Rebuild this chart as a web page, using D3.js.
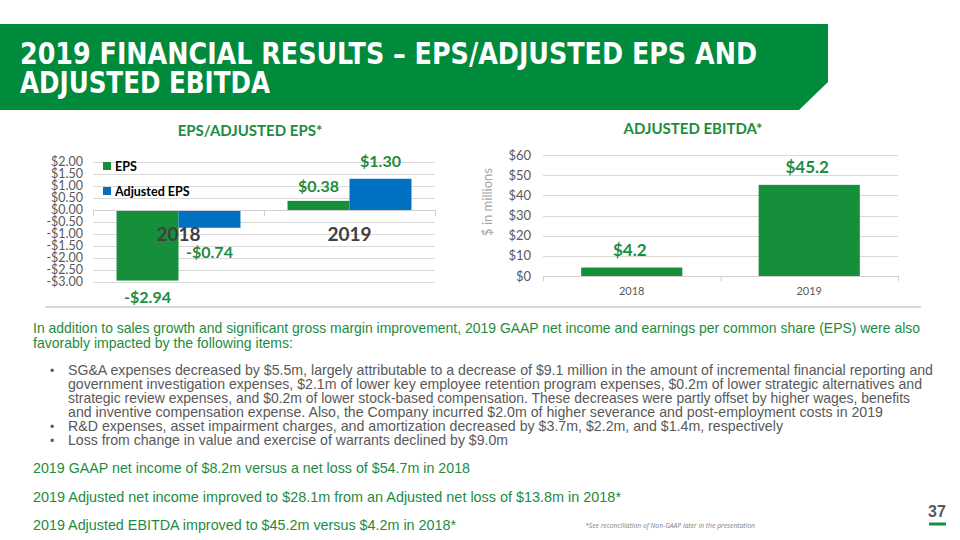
<!DOCTYPE html>
<html>
<head>
<meta charset="utf-8">
<script src="https://cdn.jsdelivr.net/npm/d3@7"></script>
<style>
  html, body { margin: 0; padding: 0; background: #fff; }
  svg { display: block; }
</style>
</head>
<body>
<svg id="chart" width="960" height="540"></svg>
<script>
// ---------- DATA ----------
const epsCategories = ["2018", "2019"];
const epsSeries = ["EPS", "Adjusted EPS"];
const epsValues = [-2.94, 0.38];          // EPS
const adjEpsValues = [-0.74, 1.30];       // Adjusted EPS
const epsLabels = ["-$2.94", "$0.38"];
const adjEpsLabels = ["-$0.74", "$1.30"];
const epsTicks = [2, 1.5, 1, 0.5, 0, -0.5, -1, -1.5, -2, -2.5, -3];
const epsTickLabels = ["$2.00","$1.50","$1.00","$0.50","$0.00","-$0.50","-$1.00","-$1.50","-$2.00","-$2.50","-$3.00"];

const ebitdaCategories = ["2018", "2019"];
const ebitdaValues = [4.2, 45.2];
const ebitdaLabels = ["$4.2", "$45.2"];
const ebitdaTicks = [0, 10, 20, 30, 40, 50, 60];
const ebitdaTickLabels = ["$0","$10","$20","$30","$40","$50","$60"];

const titleLines = ["2019 FINANCIAL RESULTS \u2013 EPS/ADJUSTED EPS AND", "ADJUSTED EBITDA"];
const introLines = [
  "In addition to sales growth and significant gross margin improvement, 2019 GAAP net income and earnings per common share (EPS) were also",
  "favorably impacted by the following items:"
];
const bulletLines = [
  ["SG&A expenses decreased by $5.5m, largely attributable to a decrease of $9.1 million in the amount of incremental financial reporting and",
   "government investigation expenses, $2.1m of lower key employee retention program expenses, $0.2m of lower strategic alternatives and",
   "strategic review expenses, and $0.2m of lower stock-based compensation.  These decreases were partly offset by higher wages, benefits",
   "and inventive compensation expense.  Also, the Company incurred $2.0m of higher severance and post-employment costs in 2019"],
  ["R&D expenses, asset impairment charges, and amortization decreased by $3.7m, $2.2m, and $1.4m, respectively"],
  ["Loss from change in value and exercise of warrants declined by $9.0m"]
];
const summaryLines = [
  "2019 GAAP net income of $8.2m versus a net loss of $54.7m in 2018",
  "2019 Adjusted net income improved to $28.1m from an Adjusted net loss of $13.8m in 2018*",
  "2019 Adjusted EBITDA improved to $45.2m versus $4.2m in 2018*"
];

// ---------- STYLE ----------
const GREEN = "#168f3a";
const BANNER = "#008a3b";
const BLUE = "#0070c0";
const TEXTGREEN = "#1d8c3f";
const GRID = "#d9d9d9";
const chartFont = "Lato, 'Open Sans', sans-serif";
const bodyFont = "'Liberation Sans', Arial, sans-serif";

const svg = d3.select("#chart");

// ---------- BANNER ----------
svg.append("path")
  .attr("d", "M0,24 L828,24 L828,82 L799,110 L0,110 Z")
  .attr("fill", BANNER);
svg.selectAll("text.title").data(titleLines).enter().append("text")
  .attr("class", "title")
  .attr("x", 20)
  .attr("y", (d, i) => 64 + i * 29)
  .attr("fill", "#fff")
  .attr("font-family", "'Liberation Sans Narrow', 'DejaVu Sans Condensed', 'Liberation Sans', sans-serif")
  .attr("font-weight", "bold")
  .attr("font-size", 31)
  .attr("textLength", (d, i) => i === 0 ? 737 : 250)
  .attr("lengthAdjust", "spacingAndGlyphs")
  .text(d => d);

// ---------- EPS CHART ----------
const eps = svg.append("g");
const yEps = d3.scaleLinear().domain([-3, 2]).range([282, 162]);
const x0 = d3.scaleBand().domain(epsCategories).range([93, 435]);
const x1 = d3.scaleBand().domain(epsSeries).range([0, x0.bandwidth()]).paddingInner(0).paddingOuter(0.38);

eps.append("text").attr("x", 250).attr("y", 136).attr("text-anchor", "middle")
  .attr("fill", TEXTGREEN).attr("font-family", chartFont).attr("font-weight", "bold")
  .attr("font-size", 15).text("EPS/ADJUSTED EPS*");

eps.selectAll("line.grid").data(epsTicks).enter().append("line")
  .attr("x1", 93).attr("x2", 435)
  .attr("y1", d => Math.round(yEps(d)) + 0.5).attr("y2", d => Math.round(yEps(d)) + 0.5)
  .attr("stroke", GRID).attr("stroke-width", 1);

eps.selectAll("text.ytick").data(epsTicks).enter().append("text")
  .attr("x", 83).attr("y", d => yEps(d) + 4.3).attr("text-anchor", "end")
  .attr("fill", "#595959").attr("font-family", chartFont).attr("font-size", 12.5)
  .text((d, i) => epsTickLabels[i]);

const epsRows = epsCategories.map((c, i) => ({ cat: c, vals: [
  { s: "EPS", v: epsValues[i], label: epsLabels[i], color: GREEN },
  { s: "Adjusted EPS", v: adjEpsValues[i], label: adjEpsLabels[i], color: BLUE }
]}));

const groups = eps.selectAll("g.cat").data(epsRows).enter().append("g")
  .attr("transform", d => `translate(${x0(d.cat)},0)`);
groups.selectAll("rect").data(d => d.vals).enter().append("rect")
  .attr("x", d => x1(d.s)).attr("width", x1.bandwidth())
  .attr("y", d => yEps(Math.max(0, d.v)))
  .attr("height", d => Math.abs(yEps(d.v) - yEps(0)))
  .attr("fill", d => d.color);

// zero axis with ticks
eps.append("line").attr("x1", 93).attr("x2", 435).attr("y1", yEps(0) + 0.5).attr("y2", yEps(0) + 0.5)
  .attr("stroke", "#d0d0d0");
eps.selectAll("line.ctick").data([93, x0("2019"), 435]).enter().append("line")
  .attr("x1", d => d + 0.5).attr("x2", d => d + 0.5)
  .attr("y1", yEps(0)).attr("y2", yEps(0) + 6).attr("stroke", "#d0d0d0");

// category labels
groups.append("text")
  .attr("x", x0.bandwidth() / 2).attr("y", 241).attr("text-anchor", "middle")
  .attr("fill", "#404040").attr("font-family", chartFont).attr("font-weight", "bold")
  .attr("font-size", 19).text(d => d.cat);

// data labels
const labelDy = { "EPS": { neg: 22, pos: -9 }, "Adjusted EPS": { neg: 30, pos: -12 } };
groups.selectAll("text.val").data(d => d.vals).enter().append("text")
  .attr("x", d => x1(d.s) + x1.bandwidth() / 2)
  .attr("y", d => yEps(d.v) + (d.v < 0 ? labelDy[d.s].neg : labelDy[d.s].pos))
  .attr("text-anchor", "middle")
  .attr("fill", TEXTGREEN).attr("font-family", chartFont).attr("font-weight", "bold")
  .attr("font-size", 16).text(d => d.label);

// legend
const legend = eps.selectAll("g.leg").data(epsSeries).enter().append("g")
  .attr("transform", (d, i) => `translate(103,${166 + i * 25})`);
legend.append("rect").attr("x", 0).attr("y", -4).attr("width", 8).attr("height", 8)
  .attr("fill", (d, i) => i === 0 ? GREEN : BLUE);
legend.append("text").attr("x", 12).attr("y", 4.5)
  .attr("fill", "#000").attr("font-family", chartFont).attr("font-weight", "bold")
  .attr("font-size", 12.5).text(d => d);

// ---------- EBITDA CHART ----------
const eb = svg.append("g");
const yEb = d3.scaleLinear().domain([0, 60]).range([276, 155]);
const xEb = d3.scaleBand().domain(ebitdaCategories).range([543, 898]).paddingInner(0.43).paddingOuter(0.215);

eb.append("text").attr("x", 693).attr("y", 134).attr("text-anchor", "middle")
  .attr("fill", TEXTGREEN).attr("font-family", chartFont).attr("font-weight", "bold")
  .attr("font-size", 15).text("ADJUSTED EBITDA*");

eb.selectAll("line.grid").data(ebitdaTicks).enter().append("line")
  .attr("x1", 543).attr("x2", 898)
  .attr("y1", d => Math.round(yEb(d)) + 0.5).attr("y2", d => Math.round(yEb(d)) + 0.5)
  .attr("stroke", d => d === 0 ? "#d0d0d0" : GRID).attr("stroke-width", 1);

eb.selectAll("text.ytick").data(ebitdaTicks).enter().append("text")
  .attr("x", 531).attr("y", d => yEb(d) + 4.5).attr("text-anchor", "end")
  .attr("fill", "#595959").attr("font-family", chartFont).attr("font-size", 13)
  .text((d, i) => ebitdaTickLabels[i]);

eb.selectAll("line.ctick").data([543, 720.5, 898]).enter().append("line")
  .attr("x1", d => d + 0.5).attr("x2", d => d + 0.5)
  .attr("y1", yEb(0)).attr("y2", yEb(0) + 5).attr("stroke", "#d0d0d0");

eb.selectAll("rect").data(ebitdaValues).enter().append("rect")
  .attr("x", (d, i) => xEb(ebitdaCategories[i])).attr("width", xEb.bandwidth())
  .attr("y", d => yEb(d)).attr("height", d => yEb(0) - yEb(d))
  .attr("fill", GREEN);

eb.selectAll("text.val").data(ebitdaValues).enter().append("text")
  .attr("x", (d, i) => xEb(ebitdaCategories[i]) + xEb.bandwidth() / 2 - 2)
  .attr("y", d => yEb(d) - 12)
  .attr("text-anchor", "middle")
  .attr("fill", TEXTGREEN).attr("font-family", chartFont).attr("font-weight", "bold")
  .attr("font-size", 17).text((d, i) => ebitdaLabels[i]);

eb.selectAll("text.cat").data(ebitdaCategories).enter().append("text")
  .attr("x", d => xEb(d) + xEb.bandwidth() / 2).attr("y", 295).attr("text-anchor", "middle")
  .attr("fill", "#595959").attr("font-family", chartFont).attr("font-size", 11).text(d => d);

eb.append("text").attr("transform", "translate(492,202) rotate(-90)")
  .attr("text-anchor", "middle").attr("fill", "#a6a6a6")
  .attr("font-family", chartFont).attr("font-size", 13).text("$ in millions");

// separator
svg.append("line").attr("x1", 45).attr("x2", 921).attr("y1", 307).attr("y2", 307)
  .attr("stroke", "#c8c8c8").attr("stroke-width", 1.5);

// ---------- BODY TEXT ----------
const body = svg.append("g").attr("font-family", bodyFont).attr("font-size", 14.5);
const introWidths = [887, 260];
body.selectAll("text.intro").data(introLines).enter().append("text")
  .attr("x", 33).attr("y", (d, i) => 333 + i * 14.5)
  .attr("fill", TEXTGREEN)
  .attr("textLength", (d, i) => introWidths[i]).attr("lengthAdjust", "spacingAndGlyphs")
  .text(d => d);

const bulletWidths = [[865, 854, 842, 815], [715], [440]];
let lineIdx = 0;
bulletLines.forEach((lines, bi) => {
  body.append("text").attr("x", 50).attr("y", 375 + lineIdx * 14)
    .attr("fill", "#595959").attr("font-size", 12).text("\u2022");
  lines.forEach((ln, li) => {
    body.append("text").attr("x", 68).attr("y", 375 + lineIdx * 14)
      .attr("fill", "#595959")
      .attr("textLength", bulletWidths[bi][li]).attr("lengthAdjust", "spacingAndGlyphs")
      .text(ln);
    lineIdx++;
  });
});

const summaryWidths = [437, 588, 423];
const summaryY = [473, 502, 530];
body.selectAll("text.sum").data(summaryLines).enter().append("text")
  .attr("x", 33).attr("y", (d, i) => summaryY[i])
  .attr("fill", TEXTGREEN)
  .attr("textLength", (d, i) => summaryWidths[i]).attr("lengthAdjust", "spacingAndGlyphs")
  .text(d => d);

// footnote
svg.append("text").attr("x", 670).attr("y", 528).attr("text-anchor", "middle")
  .attr("fill", "#7f7f7f").attr("font-family", "'Open Sans', sans-serif").attr("font-style", "italic")
  .attr("font-size", 7).attr("textLength", 170).attr("lengthAdjust", "spacingAndGlyphs")
  .text("*See reconciliation of Non-GAAP later in the presentation");

// page number
svg.append("text").attr("x", 937).attr("y", 517).attr("text-anchor", "middle")
  .attr("fill", "#595959").attr("font-family", "'Liberation Sans', sans-serif").attr("font-weight", "bold")
  .attr("font-size", 16).text("37");
svg.append("line").attr("x1", 929).attr("x2", 946).attr("y1", 524).attr("y2", 524)
  .attr("stroke", GREEN).attr("stroke-width", 3);
</script>
</body>
</html>
